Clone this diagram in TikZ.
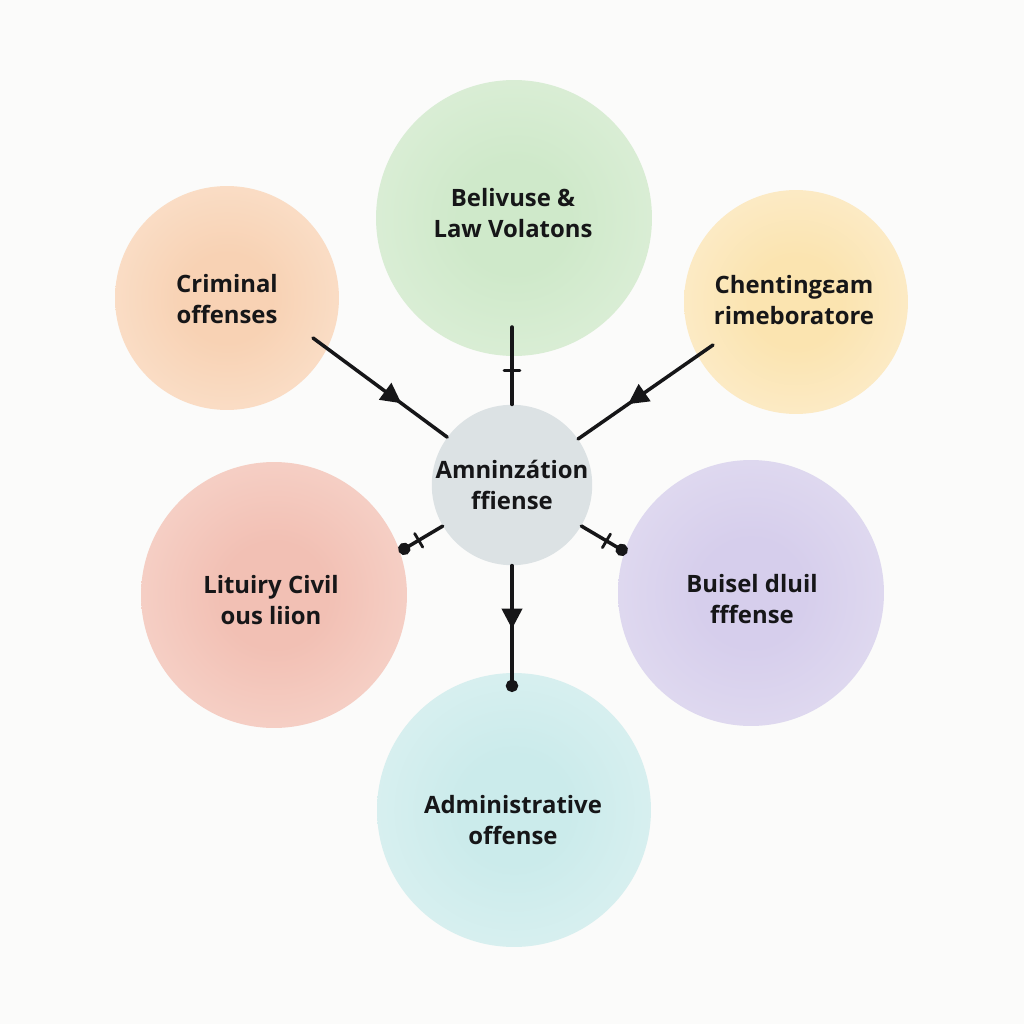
\documentclass[tikz,border=0pt]{standalone}
\usepackage{fontspec}
\setmainfont{Open Sans}
\usetikzlibrary{arrows.meta,decorations.markings,positioning}
\definecolor{fg}{RGB}{22,22,24}
\definecolor{bg}{RGB}{251,251,250}
\definecolor{hubgray}{RGB}{220,226,228}
\definecolor{orIn}{RGB}{248,210,180}
\definecolor{orOut}{RGB}{252,234,218}
\definecolor{grIn}{RGB}{207,233,202}
\definecolor{grOut}{RGB}{230,243,226}
\definecolor{yeIn}{RGB}{251,228,176}
\definecolor{yeOut}{RGB}{253,242,222}
\definecolor{reIn}{RGB}{242,192,180}
\definecolor{reOut}{RGB}{249,225,217}
\definecolor{puIn}{RGB}{214,206,236}
\definecolor{puOut}{RGB}{233,229,243}
\definecolor{cyIn}{RGB}{203,235,235}
\definecolor{cyOut}{RGB}{230,245,245}
\colorlet{ringin}{white}
\colorlet{ringout}{white}
\pgfdeclareradialshading[ringin,ringout]{ring}{\pgfpointorigin}{%
  color(0bp)=(ringin); color(10bp)=(ringin); color(44bp)=(ringout); color(50bp)=(ringout)}
\tikzset{
  every picture/.style={fg, line cap=round, line join=round},
  % Kreise
  bubble/.style 2 args={circle, inner sep=0pt, shade, shading=ring,
    /utils/exec={\colorlet{ringin}{#1}\colorlet{ringout}{#2}}},
  caption/.style={align=center, text=fg, inner sep=0pt,
    font=\fontsize{13.6}{17.5}\selectfont\bfseries},
  hubnode/.style={circle, inner sep=0pt, fill=hubgray, minimum size=2.92cm,
    caption},
  % Verbindungen
  link/.style={line width=2pt},
  midarrow/.style={postaction={decorate}, decoration={markings,
    mark=at position #1 with {\arrow{Triangle[length=11.5pt,width=11.5pt]}}}},
  midtick/.style={postaction={decorate}, decoration={markings,
    mark=at position #1 with {\draw[-, line width=1.6pt] (0,-4.5pt) -- (0,4.5pt);}}},
  dotend/.style={-{Circle[length=7pt]}},
}
\begin{document}
\begin{tikzpicture}[x=0.02cm, y=-0.02cm]
  \fill[bg] (0,0) rectangle (1024,1024);
  \useasboundingbox (0,0) rectangle (1024,1024);
  % Kreise aussen
  \node[bubble={grIn}{grOut}, minimum size=5.52cm] (law) at (514,218) {};
  \node[bubble={orIn}{orOut}, minimum size=4.48cm] (crim) at (227,298) {};
  \node[bubble={yeIn}{yeOut}, minimum size=4.48cm] (cheat) at (796,302) {};
  \node[bubble={reIn}{reOut}, minimum size=5.32cm] (civil) at (274,595) {};
  \node[bubble={puIn}{puOut}, minimum size=5.32cm] (bus) at (751,593) {};
  \node[bubble={cyIn}{cyOut}, minimum size=5.48cm] (admin) at (514,810) {};
  % Texte
  \node[caption] (lawText) at (513,213) {Belivuse \&\\Law Volatons};
  \node[caption] (crimText) at (227,299) {Criminal\\offenses};
  \node[caption] (cheatText) at (794,300) {Chentingεam\\rimeboratore};
  \node[caption] (civilText) at (271,600) {Lituiry Civil\\ous liion};
  \node[caption] (busText) at (752,599) {Buisel dluil\\fffense};
  \node[caption] (adminText) at (513,820) {Administrative\\offense};
  % Mitte
  \node[hubnode] (hub) at (512,485) {Amninzátion\\ffiense};
  % freie Enden
  \coordinate (lawEnd) at (512,327);
  \coordinate (crimEnd) at (313,338);
  \coordinate (cheatEnd) at (713,345);
  \coordinate (civilEnd) at (399,552);
  \coordinate (busEnd) at (627,553);
  \coordinate (adminEnd) at (512,692);
  % Verbindungen
  \draw[link, midtick=0.56] (lawEnd) -- (hub);
  \draw[link, midarrow=0.66] (crimEnd) -- (hub);
  \draw[link, midarrow=0.63] (cheatEnd) -- (hub);
  \draw[link, dotend, midtick=0.55] (hub) -- (civilEnd);
  \draw[link, dotend, midtick=0.55] (hub) -- (busEnd);
  \draw[link, dotend, midarrow=0.5] (hub) -- (adminEnd);
\end{tikzpicture}
\end{document}
